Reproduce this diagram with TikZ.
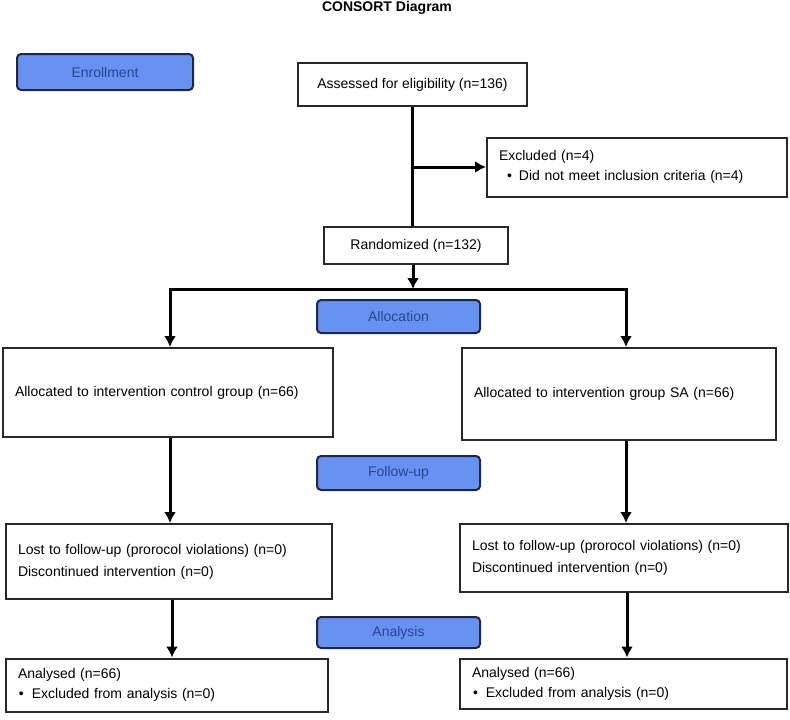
\documentclass[tikz,border=0pt]{standalone}
\usepackage{fontspec}
\setmainfont{Liberation Sans}
\usetikzlibrary{arrows.meta}
\definecolor{boxline}{RGB}{40,40,40}
\definecolor{stagefill}{RGB}{104,146,242}
\definecolor{stageline}{RGB}{30,40,70}
\definecolor{stagetext}{RGB}{40,70,140}

\begin{document}
\begin{tikzpicture}[x=1pt,y=-1pt,
  font=\fontsize{14}{21}\selectfont,
  flowbox/.style={draw=boxline, line width=2pt, fill=white, inner xsep=12pt, inner ysep=0pt},
  stage/.style={draw=stageline, line width=2pt, rounded corners=4pt, fill=stagefill,
    text=stagetext, minimum width=163pt, minimum height=33pt},
  flow/.style={-{Latex[length=11pt,width=12pt]}, line width=3pt}]
\useasboundingbox (0,0) rectangle (790,720);

\node[font=\fontsize{14}{17}\selectfont\bfseries] (title) at (387,8) {CONSORT Diagram};

% stage labels
\node[stage, minimum width=176pt, minimum height=36pt] (enrol) at (105,72) {Enrollment};
\node[stage] (alloc) at (398.5,316.5) {Allocation};
\node[stage, minimum height=34pt] (follow) at (398.5,473) {Follow-up};
\node[stage, minimum height=31pt] (analysis) at (398.5,632.5) {Analysis};

% enrollment
\node[flowbox, minimum width=229pt, minimum height=43pt] (assess) at (412.5,84.5) {Assessed for eligibility (n=136)};
\node[flowbox, text width=276pt, minimum height=59pt, align=left, font=\fontsize{14}{20}\selectfont] (excl) at (637,167)
  {Excluded (n=4)\\\hspace*{8pt}\textbullet\hspace{7pt}Did not meet inclusion criteria (n=4)};
\node[flowbox, minimum width=184pt, minimum height=37pt] (rand) at (416,245.5) {Randomized (n=132)};

% allocation
\node[flowbox, text width=306pt, minimum height=89pt, align=left] (ctrl) at (168,392.5)
  {Allocated to intervention control group (n=66)};
\node[flowbox, text width=290pt, minimum height=92pt, align=left] (sa) at (619,394)
  {Allocated to intervention group SA (n=66)};

% follow-up
\node[flowbox, text width=302pt, minimum height=75pt, align=left] (lostc) at (169,561.5)
  {Lost to follow-up (prorocol violations) (n=0)\\[1pt]Discontinued intervention (n=0)};
\node[flowbox, text width=304pt, minimum height=68pt, align=left] (lostsa) at (624,558)
  {Lost to follow-up (prorocol violations) (n=0)\\[1pt]Discontinued intervention (n=0)};

% analysis
\node[flowbox, text width=298pt, minimum height=53pt, align=left, font=\fontsize{14}{20}\selectfont] (anc) at (167,685)
  {Analysed (n=66)\\\hspace*{1pt}\textbullet\hspace{8pt}Excluded from analysis (n=0)};
\node[flowbox, text width=303pt, minimum height=50pt, align=left, font=\fontsize{14}{20}\selectfont] (ansa) at (623.5,683.5)
  {Analysed (n=66)\\\hspace*{1pt}\textbullet\hspace{8pt}Excluded from analysis (n=0)};

% connectors
\coordinate (split) at (413,289);
\draw[line width=3pt] (assess.south) -- (assess.south |- rand.north);
\draw[flow] (assess.south |- excl.west) -- (excl.west);
\draw[flow] (rand.south -| split) -- (split);
\draw[{Latex[length=11pt,width=12pt]}-{Latex[length=11pt,width=12pt]}, line width=3pt]
  ([xshift=2pt]ctrl.north) -- ([xshift=2pt]ctrl.north |- split)
  -- ([xshift=7pt]sa.north |- split) -- ([xshift=7pt]sa.north);
\draw[flow] ([xshift=2pt]ctrl.south) -- ([xshift=2pt]ctrl.south |- lostc.north);
\draw[flow] ([xshift=7pt]sa.south) -- ([xshift=7pt]sa.south |- lostsa.north);
\draw[flow] ([xshift=3pt]lostc.south) -- ([xshift=3pt]lostc.south |- anc.north);
\draw[flow] ([xshift=3pt]lostsa.south) -- ([xshift=3pt]lostsa.south |- ansa.north);
\end{tikzpicture}
\end{document}
